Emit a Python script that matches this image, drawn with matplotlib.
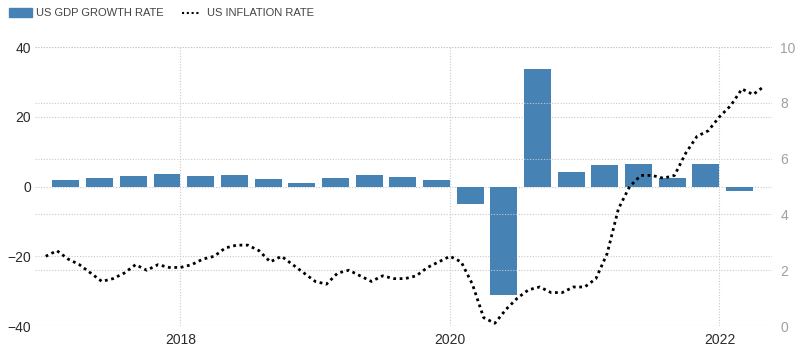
import matplotlib.pyplot as plt
from matplotlib.patches import Rectangle
from matplotlib.lines import Line2D

plt.rcParams["font.family"] = ["Liberation Sans", "DejaVu Sans"]

# quarterly GDP growth rate (annualized, %), 2017Q1 .. 2022Q1
gdp_quarters = [
    "2017Q1", "2017Q2", "2017Q3", "2017Q4",
    "2018Q1", "2018Q2", "2018Q3", "2018Q4",
    "2019Q1", "2019Q2", "2019Q3", "2019Q4",
    "2020Q1", "2020Q2", "2020Q3", "2020Q4",
    "2021Q1", "2021Q2", "2021Q3", "2021Q4",
    "2022Q1",
]
gdp_growth = [
    2.0, 2.4, 3.0, 3.7,
    3.0, 3.3, 2.2, 1.1,
    2.5, 3.3, 2.7, 2.0,
    -4.9, -31.0, 33.8, 4.3,
    6.3, 6.6, 2.4, 6.6,
    -1.4,
]

# monthly inflation rate (%), Jan 2017 .. May 2022
inflation = [
    2.5, 2.7, 2.4, 2.2, 1.9, 1.6, 1.7, 1.9, 2.2, 2.0, 2.2, 2.1,
    2.1, 2.2, 2.4, 2.5, 2.8, 2.9, 2.9, 2.7, 2.3, 2.5, 2.2, 1.9,
    1.6, 1.5, 1.9, 2.0, 1.8, 1.6, 1.8, 1.7, 1.7, 1.8, 2.1, 2.3,
    2.5, 2.3, 1.5, 0.3, 0.1, 0.6, 1.0, 1.3, 1.4, 1.2, 1.2, 1.4,
    1.4, 1.7, 2.6, 4.2, 5.0, 5.4, 5.4, 5.3, 5.4, 6.2, 6.8, 7.0,
    7.5, 7.9, 8.5, 8.3, 8.6,
]

year_ticks = [2018, 2020, 2022]
left_ticks = [-40, -20, 0, 20, 40]
right_ticks = [0, 2, 4, 6, 8, 10]

BAR_COLOR = "#4682b4"
GRID_COLOR = "#c8c8c8"

# decimal-year positions
gdp_x = [int(q[:4]) + (int(q[-1]) - 1) / 4 + 0.15 for q in gdp_quarters]
infl_x = [2017 + i / 12 for i in range(len(inflation))]

fig = plt.figure(figsize=(8, 3.54), dpi=100)
ax = fig.add_axes([0.044, 0.079, 0.921, 0.788])
ax2 = ax.twinx()

ax.bar(gdp_x, gdp_growth, width=0.2, color=BAR_COLOR, zorder=2)
ax2.plot(infl_x, inflation, color="black", linewidth=2,
         linestyle=(0, (1, 1.3)), zorder=3)

ax.set_xlim(2016.922, 2022.39)
ax.set_ylim(-40, 40)
ax2.set_ylim(0, 10)

ax.set_xticks(year_ticks)
ax.set_xticklabels([str(y) for y in year_ticks])
ax.set_yticks(left_ticks)
ax2.set_yticks(right_ticks)

ax.grid(True, axis="both", color=GRID_COLOR, linestyle=(0, (1, 1.5)),
        linewidth=0.8, zorder=0)
ax2.grid(True, axis="y", color=GRID_COLOR, linestyle=(0, (1, 1.5)),
         linewidth=0.8)
ax.set_axisbelow(True)

for a in (ax, ax2):
    for s in a.spines.values():
        s.set_visible(False)

ax.tick_params(axis="both", length=0, labelsize=10, labelcolor="#2b2b2b")
ax.tick_params(axis="y", pad=3)
ax.tick_params(axis="x", pad=5)
ax2.tick_params(axis="y", length=0, labelsize=10, labelcolor="#a0a0a0", pad=6)

# legend drawn in figure pixels
W, H = 800, 354
fig.add_artist(Rectangle((9 / W, 1 - 17 / H), 23 / W, 9 / H,
                         transform=fig.transFigure, color=BAR_COLOR))
fig.text(36 / W, 1 - 13 / H, "US GDP GROWTH RATE", fontsize=8,
         color="#444444", va="center", ha="left")
fig.add_artist(Line2D([182 / W, 200 / W], [1 - 13 / H, 1 - 13 / H],
                      transform=fig.transFigure, color="black", linewidth=1.5,
                      linestyle=(0, (1, 1.3))))
fig.text(207 / W, 1 - 13 / H, "US INFLATION RATE", fontsize=8,
         color="#444444", va="center", ha="left")

fig.savefig("out.png", dpi=100)
plt.close(fig)
